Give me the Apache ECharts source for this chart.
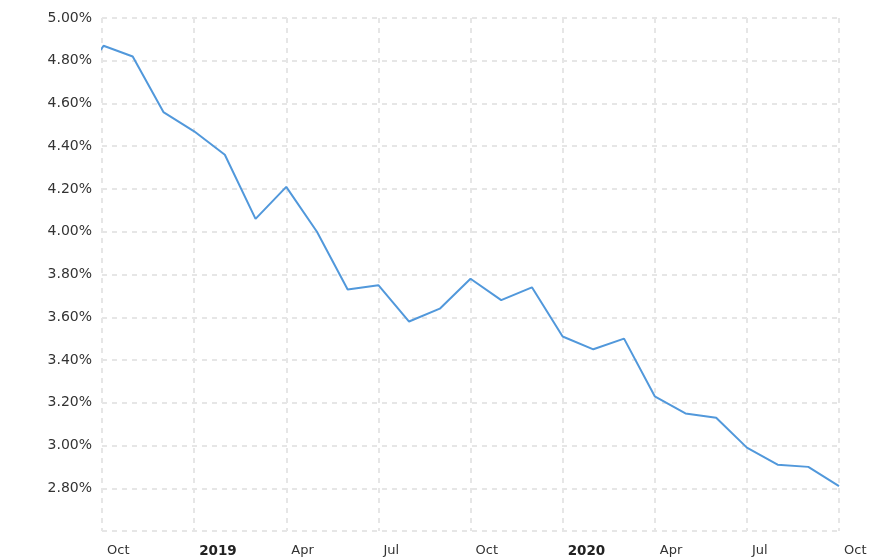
<!DOCTYPE html>
<html>
<head>
<meta charset="utf-8">
<script src="https://cdn.jsdelivr.net/npm/echarts@6/dist/echarts.min.js"></script>
<style>
html,body{margin:0;padding:0;background:#fff;}
#chart{width:888px;height:560px;}
</style>
</head>
<body>
<div id="chart"></div>
<script>
// month index from Oct 2018 (0) to Oct 2020 (24)
const monthIndex = [-0.04, 0.05, 1, 2, 3, 4, 5, 6, 7, 8, 9, 10, 11, 12, 13, 14, 15, 16, 17, 18, 19, 20, 21, 22, 23, 24];
const rateValues = [4.85, 4.87, 4.82, 4.56, 4.47, 4.36, 4.06, 4.21, 4.00, 3.73, 3.75, 3.58, 3.64, 3.78, 3.68, 3.74, 3.51, 3.45, 3.50, 3.23, 3.15, 3.13, 2.99, 2.91, 2.90, 2.81];
const tickIndex = [0, 3, 6, 9, 12, 15, 18, 21, 24];
const tickLabels = ['Oct', '2019', 'Apr', 'Jul', 'Oct', '2020', 'Apr', 'Jul', 'Oct'];
const boldLabels = ['2019', '2020'];

const chart = echarts.init(document.getElementById('chart'), null, {renderer: 'canvas'});
const seriesData = monthIndex.map((m, i) => [m, rateValues[i]]);

chart.setOption({
  animation: false,
  grid: {left: 102, right: 49, top: 18, bottom: 29, containLabel: false},
  xAxis: {
    type: 'value',
    min: 0, max: 24, interval: 3,
    axisLine: {show: false},
    axisTick: {show: false},
    splitLine: {show: true, lineStyle: {color: '#e6e6e6', width: 2, type: [5, 5]}},
    axisLabel: {
      margin: 13,
      align: 'left',
      padding: [0, 0, 0, 5],
      fontFamily: 'DejaVu Sans',
      fontSize: 13,
      color: '#333',
      formatter: function (v) {
        const i = tickIndex.indexOf(Math.round(v));
        if (i < 0) return '';
        const t = tickLabels[i];
        return boldLabels.indexOf(t) >= 0 ? '{b|' + t + '}' : t;
      },
      rich: {b: {fontWeight: 'bold', fontFamily: 'DejaVu Sans', fontSize: 13.5, color: '#222'}}
    }
  },
  yAxis: {
    type: 'value',
    min: 2.6, max: 5.0, interval: 0.2,
    axisLine: {show: false},
    axisTick: {show: false},
    splitLine: {show: true, lineStyle: {color: '#e6e6e6', width: 2, type: [5, 5]}},
    axisLabel: {
      margin: 10,
      fontFamily: 'DejaVu Sans',
      fontSize: 14,
      color: '#333',
      formatter: function (v) {
        if (Math.abs(v - 2.6) < 1e-6) return '';
        return v.toFixed(2) + '%';
      }
    }
  },
  series: [{
    type: 'line',
    data: seriesData,
    showSymbol: false,
    clip: false,
    lineStyle: {color: '#5198db', width: 2},
    itemStyle: {color: '#5198db'}
  }]
});
</script>
</body>
</html>
